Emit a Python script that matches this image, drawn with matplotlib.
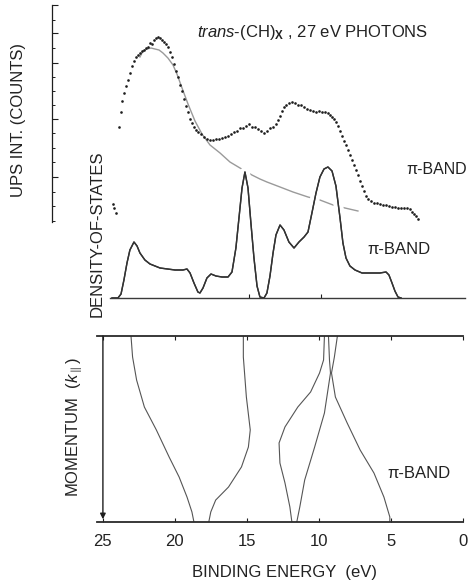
import matplotlib
matplotlib.use("Agg")
import matplotlib.pyplot as plt
import matplotlib.patheffects as pe
import numpy as np

plt.rcParams["font.family"] = ["Liberation Sans", "DejaVu Sans"]
plt.rcParams["font.size"] = 12
plt.rcParams["mathtext.fontset"] = "custom"
plt.rcParams["mathtext.rm"] = "Liberation Sans"
plt.rcParams["mathtext.it"] = "Liberation Sans:italic"
plt.rcParams["mathtext.bf"] = "Liberation Sans:bold"

INK = "#1e1e1e"

### Data ###
# UPS spectrum (dots): binding energy (eV), intensity (arb. counts)
ups_ev = [24.31, 24.24, 24.11,
          23.90, 23.76, 23.69, 23.56, 23.42, 23.28, 23.15, 23.01, 22.87, 22.73,
          22.60, 22.46, 22.32, 22.18, 22.05, 21.91, 21.77, 21.63, 21.50, 21.36,
          21.22, 21.08, 20.95, 20.81, 20.67, 20.54, 20.40, 20.26, 20.12, 19.99,
          19.85, 19.71, 19.57, 19.44, 19.30, 19.16, 19.02, 18.89, 18.75, 18.61,
          18.48, 18.27, 18.06, 17.86, 17.65, 17.44, 17.24, 17.03, 16.83, 16.62,
          16.41, 16.21, 16.00, 15.80, 15.59, 15.38, 15.18, 14.97, 14.77, 14.56,
          14.35, 14.15, 13.94, 13.74, 13.53, 13.32, 13.12, 12.98, 12.84, 12.71,
          12.57, 12.43, 12.23, 12.02, 11.81, 11.61, 11.40, 11.19, 10.99, 10.78,
          10.58, 10.37, 10.16, 9.96, 9.75, 9.55, 9.41, 9.27, 9.13, 9.00, 8.86,
          8.72, 8.58, 8.45, 8.31, 8.17, 8.04, 7.90, 7.76, 7.62, 7.49, 7.35, 7.21,
          7.07, 6.94, 6.80, 6.59, 6.39, 6.18, 5.98, 5.77, 5.56, 5.36, 5.15, 4.95,
          4.74, 4.53, 4.33, 4.12, 3.91, 3.78, 3.64, 3.50, 3.37]
ups_counts = [18, 14, 9,
              95, 110, 121, 129, 136, 142, 149, 156, 161, 165,
              167, 169, 171, 172, 174, 175, 179, 178, 182, 184,
              185, 184, 182, 180, 178, 175, 170, 165, 158, 151,
              145, 137, 131, 123, 116, 110, 103, 99, 95, 92,
              90, 88, 85, 83, 82, 82, 83, 83, 84, 85,
              86, 88, 90, 91, 94, 94, 96, 98, 95, 95,
              93, 91, 89, 91, 94, 95, 98, 102, 106, 111,
              115, 117, 119, 120, 119, 117, 117, 115, 113, 112,
              111, 110, 111, 110, 110, 109, 107, 105, 103, 100, 96,
              91, 86, 81, 77, 72, 67, 62, 57, 52, 47, 41, 36,
              31, 26, 23, 21, 19, 19, 18, 17, 17, 16, 15, 15,
              14, 14, 14, 14, 13, 10, 8, 6, 3]

# smooth background fitted under the spectrum
bg_ev = [22.46, 22.25, 21.98, 21.70, 21.43, 21.15, 20.88, 20.54, 20.19, 19.92,
         19.57, 19.16, 18.68, 18.20, 17.65, 16.96, 16.28, 15.59, 14.77, 14.22,
         13.74, 12.84, 11.95, 10.92, 10.10, 9.20, 8.38, 7.49]
bg_counts = [165, 171, 173, 174, 173, 172, 169, 164, 157, 148,
             134, 118, 101, 88, 77, 69, 60, 54, 47, 43,
             40, 35, 30, 25, 22, 17, 14, 11]

# calculated density of states
dos_ev = [24.38, 23.97, 23.76, 23.56, 23.35, 23.15, 22.87, 22.66, 22.46, 22.12,
          21.77, 21.08, 20.05, 19.51, 19.23, 19.02, 18.75, 18.48, 18.34, 18.13,
          17.86, 17.58, 17.24, 16.83, 16.41, 16.14, 15.87, 15.66, 15.45, 15.25,
          15.04, 14.84, 14.63, 14.42, 14.22, 13.94, 13.74, 13.53, 13.32, 13.12,
          12.84, 12.57, 12.23, 11.88, 11.54, 11.19, 10.92, 10.65, 10.37, 10.10,
          9.82, 9.55, 9.27, 9.00, 8.72, 8.52, 8.31, 8.04, 7.69, 7.21,
          6.52, 5.98, 5.56, 5.36, 5.15, 4.95, 4.74, 4.53]
dos_val = [0, 0, 4, 18, 35, 48, 56, 52, 45, 38,
           34, 30, 28, 28, 29, 25, 15, 6, 5, 10,
           20, 24, 22, 21, 21, 26, 50, 80, 110, 126,
           110, 75, 40, 12, 1, 0, 5, 22, 45, 63,
           73, 68, 56, 50, 56, 61, 66, 85, 105, 121,
           129, 131, 127, 112, 80, 55, 40, 32, 28, 25,
           25, 25, 26, 23, 15, 7, 1, 0]

# band structure E(k), k from zone edge (0, top) to zone centre (1, bottom)
band1_ev = [23.05, 22.94, 22.66, 22.12, 21.29, 20.40, 19.71, 19.16, 18.82, 18.68]
band1_k = [0.0, 0.113, 0.237, 0.382, 0.505, 0.651, 0.758, 0.866, 0.946, 1.0]
band2_ev = [15.25, 15.25, 15.04, 14.77, 14.90, 15.38, 16.28, 17.17, 17.51, 17.65]
band2_k = [0.0, 0.113, 0.328, 0.505, 0.597, 0.704, 0.812, 0.882, 0.946, 1.0]
band3_ev = [9.62, 9.68, 9.96, 10.58, 11.47, 12.36, 12.77, 12.71, 12.36, 12.02, 11.88]
band3_k = [0.0, 0.129, 0.199, 0.301, 0.382, 0.489, 0.575, 0.683, 0.790, 0.919, 1.0]
band4_ev = [9.34, 9.27, 9.20, 9.62, 10.30, 10.99, 11.33, 11.54]
band4_k = [0.0, 0.129, 0.199, 0.414, 0.597, 0.774, 0.919, 1.0]
band5_ev = [8.72, 8.93, 9.13, 8.86, 8.04, 7.14, 6.18, 5.49, 5.08, 5.08]
band5_k = [0.0, 0.113, 0.199, 0.328, 0.468, 0.613, 0.737, 0.866, 0.973, 1.0]

energy_ticks = [25, 20, 15, 10, 5, 0]
dos_ticks = [15, 10, 5]
ups_ticks = [1, 16, 30, 45, 60, 74, 89, 103, 117, 131, 145, 159, 174, 189, 202, 217]
ups_major = [45, 103, 159, 189, 217]

### Figure ###
W, H = 470, 586
fig = plt.figure(figsize=(W / 100, H / 100), dpi=100)

def box(x0, y0, x1, y1):
    # pixel box (top-left origin) -> figure fraction rect
    return [x0 / W, 1 - y1 / H, (x1 - x0) / W, (y1 - y0) / H]

# UPS spectrum
ax_ups = fig.add_axes(box(52, 5, 467, 222))
ax_ups.patch.set_alpha(0)
ax_ups.plot(bg_ev, bg_counts, color="#9a9a9a", lw=1.0, zorder=1)
ax_ups.plot(ups_ev, ups_counts, ls="none", marker="o", ms=1.9, mew=0,
            color=INK, zorder=2)
ax_ups.set_xlim(28.50, 0)
ax_ups.set_ylim(0, 217)
for s in ["top", "right", "bottom"]:
    ax_ups.spines[s].set_visible(False)
ax_ups.spines["left"].set_color(INK)
ax_ups.spines["left"].set_linewidth(0.9)
ax_ups.set_xticks([])
ax_ups.set_yticks(ups_major)
ax_ups.set_yticks(ups_ticks, minor=True)
ax_ups.tick_params(axis="y", which="major", direction="in", length=4,
                   width=0.8, color=INK, labelleft=False)
ax_ups.tick_params(axis="y", which="minor", direction="in", length=2.5,
                   width=0.7, color=INK)

# density of states
ax_dos = fig.add_axes(box(52, 150, 467, 298))
ax_dos.patch.set_alpha(0)
ax_dos.plot(dos_ev, dos_val, color="#333333", lw=1.0, zorder=2,
            path_effects=[pe.withStroke(linewidth=7, foreground="white"),
                          pe.Normal()])
ax_dos.set_xlim(28.50, 0)
ax_dos.set_ylim(0, 148)
for s in ["top", "right", "left"]:
    ax_dos.spines[s].set_visible(False)
ax_dos.spines["bottom"].set_bounds(0.15, 24.5)
ax_dos.spines["bottom"].set_color("#3a3a3a")
ax_dos.spines["bottom"].set_linewidth(1.0)
ax_dos.set_yticks([])
ax_dos.set_xticks(dos_ticks)
ax_dos.tick_params(axis="x", direction="in", length=3, width=0.8,
                   color=INK, labelbottom=False)

# band structure
ax_b = fig.add_axes(box(97, 336, 463, 522))
ax_b.patch.set_alpha(0)
for ev, k in [(band1_ev, band1_k), (band2_ev, band2_k), (band3_ev, band3_k),
              (band4_ev, band4_k), (band5_ev, band5_k)]:
    ax_b.plot(ev, k, color="#555555", lw=0.8)
ax_b.set_xlim(25.41, 0.27)
ax_b.set_ylim(1, 0)
for s in ["left", "right"]:
    ax_b.spines[s].set_visible(False)
for s in ["top", "bottom"]:
    ax_b.spines[s].set_color("#2a2a2a")
    ax_b.spines[s].set_linewidth(1.3)
ax_b.set_yticks([])
ax_b.set_xticks(energy_ticks)
ax_b.set_xticklabels([str(t) for t in energy_ticks], color="#222222")
ax_b.tick_params(axis="x", top=True, direction="in", length=3, width=0.8,
                 color=INK, pad=9, labelsize=12)
ax_b.annotate("", xy=(25, 0.985), xytext=(25, 0.0),
              arrowprops=dict(arrowstyle="-|>", lw=1.0, color=INK,
                              mutation_scale=8, shrinkA=0, shrinkB=0))

# text
fig.text(19 / W, 1 - 120 / H, "UPS INT. (COUNTS)", rotation=90,
         ha="center", va="center", color="#222222")
fig.text(97 / W, 1 - 234 / H, "DENSITY-OF-STATES", rotation=90,
         ha="center", va="center", color="#222222")
fig.text(75 / W, 1 - 427 / H, r"MOMENTUM  ($k_{\parallel}$)", rotation=90,
         ha="center", va="center", color="#222222")
fig.text(197 / W, 1 - 33 / H,
         r"$\mathit{trans}$-(CH)$_{\mathbf{X}}$ , 27 eV PHOTONS",
         ha="left", va="center", color="#222222")
fig.text(406 / W, 1 - 170 / H, "π-BAND", ha="left", va="center",
         color="#222222", fontsize=11.5)
fig.text(367 / W, 1 - 250 / H, "π-BAND", ha="left", va="center", color="#222222")
fig.text(387 / W, 1 - 473 / H, "π-BAND", ha="left", va="center", color="#222222")
fig.text(284 / W, 1 - 573 / H, "BINDING ENERGY  (eV)", ha="center",
         va="center", color="#222222")

fig.savefig("out.png", dpi=100)
